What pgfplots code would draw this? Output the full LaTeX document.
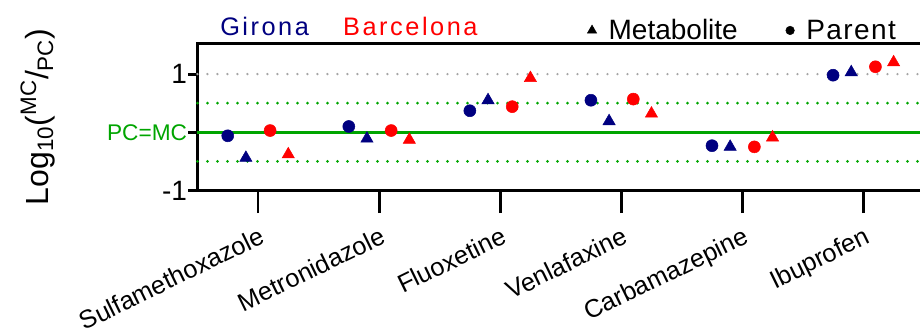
\documentclass[border=0pt]{standalone}
\usepackage{pgfplots}
\pgfplotsset{compat=1.18}
\usepackage{fontspec}
\setmainfont{Liberation Sans}
\definecolor{navyG}{RGB}{0,0,128}
\definecolor{redB}{RGB}{255,0,0}
\definecolor{pcgreen}{RGB}{0,165,0}
\definecolor{refgray}{RGB}{165,165,165}
\begin{document}
\begin{tikzpicture}
\begin{axis}[
  at={(0pt,0pt)}, anchor=south west,
  scale only axis, width=544.8pt, height=110.6pt,
  xmin=0.5, xmax=6.5, ymin=-1, ymax=1.532,
  axis line style={line width=2.2pt},
  every tick/.style={black, line width=2.2pt},
  tick align=outside, tick pos=left,
  xtick={1,2,3,4,5,6},
  xticklabels={Sulfamethoxazole,Metronidazole,Fluoxetine,Venlafaxine,Carbamazepine,Ibuprofen},
  x tick label style={rotate=26, anchor=north east, font=\fontsize{19}{20}\selectfont, inner sep=0pt},
  xticklabel shift=22pt,
  xtick style={/pgfplots/major tick length=17pt},
  ytick={-1,0,1},
  yticklabels={-1,{\color{pcgreen}\fontsize{17}{17}\selectfont PC=MC},1},
  y tick label style={font=\fontsize{21}{21}\selectfont},
  ytick style={/pgfplots/major tick length=7pt},
  ylabel={Log\textsubscript{10}(\textsuperscript{MC}/\textsubscript{PC})},
  ylabel style={font=\fontsize{24}{24}\selectfont, at={(axis description cs:-0.196,0.5)}, anchor=south, inner sep=0pt},
  clip=false,
  legend columns=2,
  legend style={at={(axis description cs:0.9655,0.99)}, anchor=south east, draw=none, fill=none,
    font=\fontsize{21}{21}\selectfont, inner sep=0pt,
    /tikz/every odd column/.append style={column sep=7pt},
    /tikz/every even column/.append style={column sep=34pt}},
]
% reference lines
\addplot[refgray, line width=1.9pt, dash pattern=on 0pt off 7.5pt, line cap=round, forget plot] coordinates {(0.5,1) (6.5,1)};
\addplot[pcgreen, line width=2.3pt, dash pattern=on 0pt off 7.5pt, line cap=round, forget plot] coordinates {(0.5,0.5) (6.5,0.5)};
\addplot[pcgreen, line width=2.3pt, dash pattern=on 0pt off 7.5pt, line cap=round, forget plot] coordinates {(0.5,-0.5) (6.5,-0.5)};
\addplot[pcgreen, line width=2.2pt, forget plot] coordinates {(0.5,0) (6.5,0)};
% Girona parent
\addplot[only marks, mark=*, navyG, mark size=4.5pt, forget plot] coordinates {(0.75,-0.06) (1.75,0.10) (2.75,0.37) (3.75,0.55) (4.75,-0.23) (5.75,0.98)};
% Girona metabolite
\addplot[only marks, mark=triangle*, navyG, mark size=5.3pt, forget plot] coordinates {(0.9,-0.44) (1.9,-0.11) (2.9,0.55) (3.9,0.19) (4.9,-0.25) (5.9,1.03)};
% Barcelona parent
\addplot[only marks, mark=*, redB, mark size=4.5pt, forget plot] coordinates {(1.1,0.03) (2.1,0.03) (3.1,0.44) (4.1,0.57) (5.1,-0.25) (6.1,1.125)};
% Barcelona metabolite
\addplot[only marks, mark=triangle*, redB, mark size=5.3pt, forget plot] coordinates {(1.25,-0.38) (2.25,-0.13) (3.25,0.93) (4.25,0.32) (5.25,-0.09) (6.25,1.20)};
\addlegendimage{only marks, mark=triangle*, black, mark size=4pt}
\addlegendentry{Metabolite}
\addlegendimage{only marks, mark=*, black, mark size=3.2pt}
\addlegendentry{\addfontfeature{LetterSpace=5}Parent}
\end{axis}
\node[anchor=base west, inner sep=0pt, text=navyG, font=\fontsize{19}{19}\selectfont\addfontfeature{LetterSpace=10}] at (16.9pt,115.9pt) {Girona};
\node[anchor=base west, inner sep=0pt, text=redB, font=\fontsize{19}{19}\selectfont\addfontfeature{LetterSpace=10}] at (109.1pt,115.9pt) {Barcelona};
\pgfresetboundingbox
\path (-148.1pt,-108.4pt) rectangle (541.9pt,142.9pt);
\end{tikzpicture}
\end{document}
